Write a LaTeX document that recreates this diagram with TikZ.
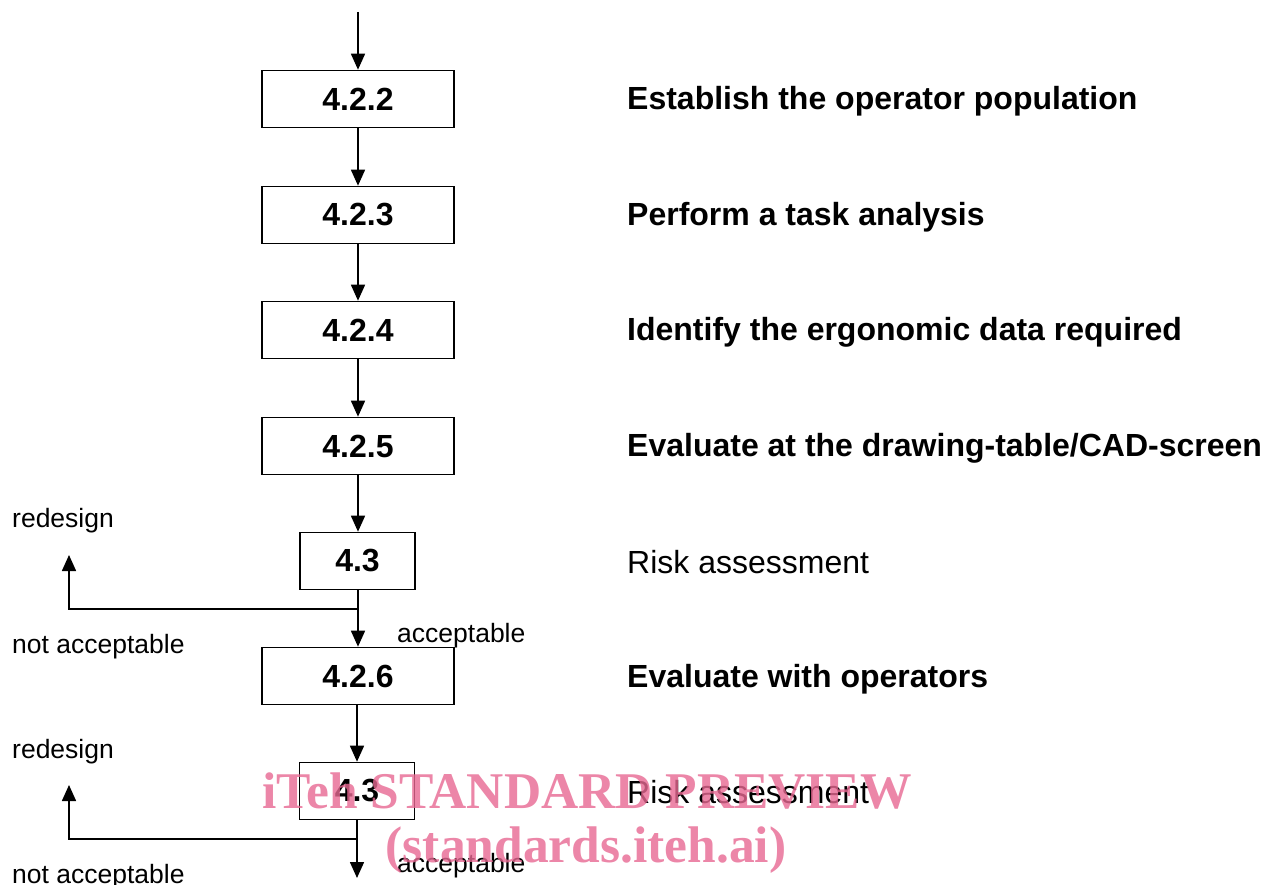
\documentclass[tikz,border=0pt]{standalone}
\usepackage{fontspec}
\setmainfont{Liberation Sans}
\newfontfamily\wmfont{Liberation Serif}
\usetikzlibrary{arrows.meta}
\definecolor{wmpink}{RGB}{231,104,146}
\begin{document}
\begin{tikzpicture}[x=1pt,y=-1pt,
  stepbox/.style={draw,line width=1.6pt,minimum height=57pt,inner sep=0pt,
    font=\fontsize{32}{36}\selectfont\bfseries},
  wide/.style={stepbox,minimum width=192pt},
  narrow/.style={stepbox,minimum width=115pt},
  flow/.style={line width=1.6pt,-{Triangle[length=16pt,width=14pt]}},
  branch/.style={line width=1.6pt},
  title/.style={anchor=west,inner sep=0pt,font=\fontsize{32}{36}\selectfont\bfseries},
  plain/.style={anchor=west,inner sep=0pt,font=\fontsize{32}{36}\selectfont},
  note/.style={anchor=west,inner sep=0pt,font=\fontsize{26.5}{30}\selectfont},
  wmtext/.style={text=wmpink,opacity=0.8,inner sep=0pt,font=\fontsize{51.5}{56}\selectfont\wmfont\bfseries}]
\useasboundingbox (0,0) rectangle (1264,885);

% steps of the procedure
\node[wide]   (s422) at (358,99)  {4.2.2};
\node[wide]   (s423) at (358,215) {4.2.3};
\node[wide]   (s424) at (358,330) {4.2.4};
\node[wide]   (s425) at (358,446) {4.2.5};
\node[narrow] (r1)   at (357.5,561) {4.3};
\node[wide]   (s426) at (358,676) {4.2.6};
\node[narrow] (r2)   at (357,791) {4.3};

% descriptions
\node[title] (t422) at (627,101) {Establish the operator population};
\node[title] (t423) at (627,217) {Perform a task analysis};
\node[title] (t424) at (627,332) {Identify the ergonomic data required};
\node[title] (t425) at (627,448) {Evaluate at the drawing-table/CAD-screen};
\node[plain] (tr1)  at (627,562) {Risk assessment};
\node[title] (t426) at (627,679) {Evaluate with operators};
\node[plain] (tr2)  at (627,792) {Risk assessment};

% main flow
\coordinate (start) at (358,12);
\draw[flow] (start) -- (s422);
\draw[flow] (s422) -- (s423);
\draw[flow] (s423) -- (s424);
\draw[flow] (s424) -- (s425);
\draw[flow] (s425.south) -- (s425.south |- r1.north);
\draw[flow] (r1.south -| s426.north) -- (s426.north);
\draw[flow] (s426.south -| r2.north) -- (r2.north);
\coordinate (exit) at (357,878);
\draw[flow] (r2.south) -- (exit);

% feedback after the first risk assessment
\coordinate (b1) at (357.5,609);
\coordinate (up1) at (69,555);
\draw[branch,-{Triangle[length=16pt,width=14pt]}] (b1) -| (up1);
\node[note] (rd1) at (12,521) {redesign};
\node[note] (na1) at (12,647) {not acceptable};
\node[note] (ac1) at (397,636) {acceptable};

% feedback after the second risk assessment
\coordinate (b2) at (357,839);
\coordinate (up2) at (69,785);
\draw[branch,-{Triangle[length=16pt,width=14pt]}] (b2) -| (up2);
\node[note] (rd2) at (12,752) {redesign};
\node[note] (na2) at (12,877) {not acceptable};
\node[note] (ac2) at (397,866) {acceptable};

% overprinted mark
\node[wmtext] (wm1) at (587,791) {iTeh STANDARD PREVIEW};
\node[wmtext] (wm2) at (586,850) {(standards.iteh.ai)};
\end{tikzpicture}
\end{document}
